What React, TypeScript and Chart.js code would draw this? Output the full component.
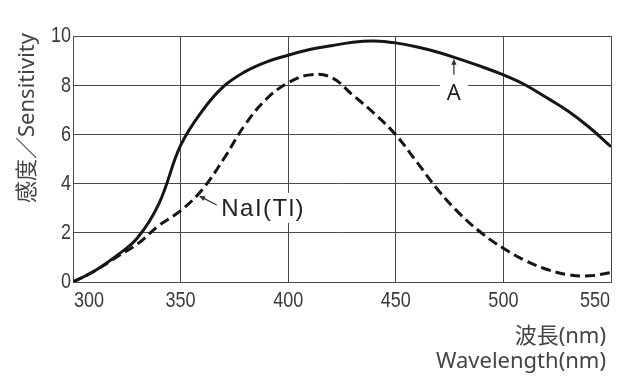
import React, { useEffect, useRef } from "react";
import { Chart, registerables } from "chart.js";

Chart.register(...registerables);

// ---- data ----
const wavelengths = [300, 310, 320, 330, 340, 350, 360, 370, 380, 390, 400, 410, 420, 430, 440, 450, 460, 470, 480, 490, 500, 510, 520, 530, 540, 550];
const sensitivityA = [0, 0.45, 1.05, 1.8, 3.2, 5.55, 6.95, 7.95, 8.55, 8.95, 9.22, 9.45, 9.6, 9.75, 9.8, 9.72, 9.55, 9.33, 9.05, 8.75, 8.42, 8.02, 7.5, 6.95, 6.28, 5.5];
const sensitivityNaI = [0, 0.45, 1.0, 1.55, 2.3, 2.9, 3.75, 5.0, 6.4, 7.45, 8.1, 8.42, 8.32, 7.6, 6.85, 5.98, 4.85, 3.7, 2.75, 1.98, 1.37, 0.88, 0.52, 0.3, 0.25, 0.38];
const xTicks = [300, 350, 400, 450, 500, 550];
const yTicks = [0, 2, 4, 6, 8, 10];
const yTitle = "感度／Sensitivity";
const xTitleJa = "波長(nm)";
const xTitleEn = "Wavelength(nm)";
const labelA = "A";
const labelNaI = "NaI(Tl)";

// annotation anchors (data coordinates)
const aLabelPos = { x: 477, y: 7.4 };
const aArrow = { x: 477, y0: 8.42, y1: 9.08 };
const naiLabelPos = { x: 368.9, y: 2.69 };
const naiArrow = { x0: 366.8, y0: 3.13, x1: 358.6, y1: 3.5 };

const TICK_FONT = '22px "Liberation Sans", Arial, sans-serif';
const NARROW = 0.82;
const TITLE_FONT = '22px "Noto Sans", "Noto Sans CJK JP", sans-serif';
const LABEL_FONT = '24px "Liberation Sans", Arial, sans-serif';
const TEXT = "#3a3a3a";

function arrow(ctx: CanvasRenderingContext2D, x0: number, y0: number, x1: number, y1: number) {
  const ang = Math.atan2(y1 - y0, x1 - x0);
  const len = 6;
  const hw = 2.6;
  ctx.save();
  ctx.strokeStyle = "#333";
  ctx.fillStyle = "#333";
  ctx.lineWidth = 1.2;
  ctx.beginPath();
  ctx.moveTo(x0, y0);
  ctx.lineTo(x1 - Math.cos(ang) * len * 0.8, y1 - Math.sin(ang) * len * 0.8);
  ctx.stroke();
  ctx.beginPath();
  ctx.moveTo(x1, y1);
  ctx.lineTo(x1 - Math.cos(ang) * len - Math.sin(ang) * hw, y1 - Math.sin(ang) * len + Math.cos(ang) * hw);
  ctx.lineTo(x1 - Math.cos(ang) * len + Math.sin(ang) * hw, y1 - Math.sin(ang) * len - Math.cos(ang) * hw);
  ctx.closePath();
  ctx.fill();
  ctx.restore();
}

function narrowText(ctx: CanvasRenderingContext2D, text: string, x: number, y: number, align: CanvasTextAlign) {
  ctx.save();
  ctx.translate(x, y);
  ctx.scale(NARROW, 1);
  ctx.textAlign = align;
  ctx.fillText(text, 0, 0);
  ctx.restore();
}

const annotPlugin = {
  id: "annot",
  beforeDatasetsDraw(chart: any) {
    const { ctx, scales } = chart;
    const xs = scales.x;
    const ys = scales.y;
    ctx.save();
    ctx.fillStyle = "#ffffff";
    ctx.font = TITLE_FONT;
    const ax = xs.getPixelForValue(aLabelPos.x);
    const ay = ys.getPixelForValue(aLabelPos.y);
    const aw = ctx.measureText(labelA).width;
    ctx.fillRect(ax - aw / 2 - 7, ay - 19, aw + 14, 21);
    ctx.font = LABEL_FONT;
    (ctx as any).letterSpacing = "1.5px";
    const nx = xs.getPixelForValue(naiLabelPos.x);
    const ny = ys.getPixelForValue(naiLabelPos.y);
    const nw = ctx.measureText(labelNaI).width;
    ctx.fillRect(nx - 5, ny - 23, nw + 10, 30);
    ctx.restore();
  },
  afterDatasetsDraw(chart: any) {
    const { ctx, scales } = chart;
    const xs = scales.x;
    const ys = scales.y;
    ctx.save();
    ctx.fillStyle = "#222";
    ctx.font = TITLE_FONT;
    ctx.textAlign = "center";
    ctx.textBaseline = "alphabetic";
    ctx.fillText(labelA, xs.getPixelForValue(aLabelPos.x), ys.getPixelForValue(aLabelPos.y));
    ctx.font = LABEL_FONT;
    (ctx as any).letterSpacing = "1.5px";
    ctx.textAlign = "left";
    ctx.fillText(labelNaI, xs.getPixelForValue(naiLabelPos.x), ys.getPixelForValue(naiLabelPos.y));
    ctx.restore();
    arrow(ctx, xs.getPixelForValue(aArrow.x), ys.getPixelForValue(aArrow.y0), xs.getPixelForValue(aArrow.x), ys.getPixelForValue(aArrow.y1));
    arrow(ctx, xs.getPixelForValue(naiArrow.x0), ys.getPixelForValue(naiArrow.y0), xs.getPixelForValue(naiArrow.x1), ys.getPixelForValue(naiArrow.y1));
  },
  afterDraw(chart: any) {
    const { ctx, scales, chartArea } = chart;
    const xs = scales.x;
    const ys = scales.y;
    ctx.save();
    ctx.fillStyle = TEXT;
    ctx.font = TICK_FONT;
    ctx.textBaseline = "alphabetic";
    xTicks.forEach((v, i) => {
      const px = xs.getPixelForValue(v);
      const by = chartArea.bottom + 25;
      if (i === 0) narrowText(ctx, String(v), px + 1, by, "left");
      else if (i === xTicks.length - 1) narrowText(ctx, String(v), px - 1, by, "right");
      else narrowText(ctx, String(v), px, by, "center");
    });
    yTicks.forEach((v) => {
      const py = ys.getPixelForValue(v);
      narrowText(ctx, String(v), chartArea.left - 2, py + 6.4, "right");
    });
    // x titles
    ctx.font = TITLE_FONT;
    ctx.fillStyle = "#444";
    ctx.textAlign = "right";
    ctx.fillText(xTitleJa, chartArea.right - 5, chartArea.bottom + 61);
    ctx.fillText(xTitleEn, chartArea.right - 5, chartArea.bottom + 86);
    // y title
    ctx.translate(28, 118);
    ctx.rotate(-Math.PI / 2);
    ctx.textAlign = "center";
    ctx.textBaseline = "middle";
    ctx.fillText(yTitle, 0, 0);
    ctx.restore();
  },
};

export default function App() {
  const ref = useRef<HTMLCanvasElement | null>(null);
  useEffect(() => {
    document.body.style.margin = "0";
    const canvas = ref.current;
    if (!canvas) return;
    const chart = new Chart(canvas, {
      type: "line",
      data: {
        datasets: [
          {
            label: labelA,
            data: wavelengths.map((x, i) => ({ x, y: sensitivityA[i] })),
            borderColor: "#151515",
            borderWidth: 3,
            pointRadius: 0,
            tension: 0.4,
            fill: false,
          },
          {
            label: labelNaI,
            data: wavelengths.map((x, i) => ({ x, y: sensitivityNaI[i] })),
            borderColor: "#151515",
            borderWidth: 3,
            borderDash: [10, 5],
            pointRadius: 0,
            tension: 0.4,
            fill: false,
          },
        ],
      },
      options: {
        responsive: false,
        animation: false,
        events: [],
        layout: { padding: { top: 36, right: 18, bottom: 0, left: 0 } },
        plugins: { legend: { display: false }, tooltip: { enabled: false }, title: { display: false } },
        scales: {
          x: {
            type: "linear",
            min: 300,
            max: 550,
            afterBuildTicks: (s: any) => { s.ticks = xTicks.map((v) => ({ value: v })); },
            ticks: { display: false },
            grid: { color: "#4a4a4a", lineWidth: 1, drawTicks: false },
            border: { color: "#4a4a4a", width: 1 },
            afterFit: (s: any) => { s.height = 105; },
          },
          y: {
            type: "linear",
            min: 0,
            max: 10,
            afterBuildTicks: (s: any) => { s.ticks = yTicks.map((v) => ({ value: v })); },
            ticks: { display: false },
            grid: { color: "#4a4a4a", lineWidth: 1, drawTicks: false },
            border: { color: "#4a4a4a", width: 1 },
            afterFit: (s: any) => { s.width = 73; },
          },
        },
      },
      plugins: [annotPlugin],
    } as any);
    return () => chart.destroy();
  }, []);
  return (
    <div style={{ position: "absolute", left: 0, top: 0, width: 629, height: 387, background: "#fff" }}>
      <canvas ref={ref} width={629} height={387} />
    </div>
  );
}
